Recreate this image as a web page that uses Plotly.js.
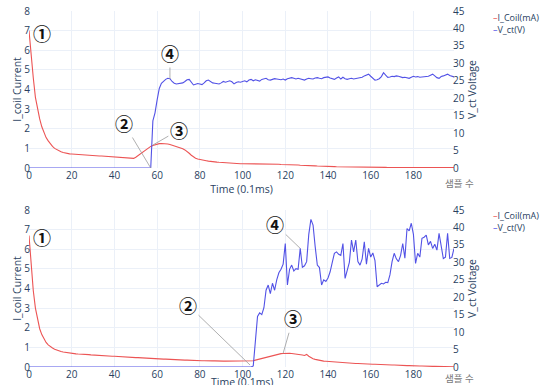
<!DOCTYPE html>
<html>
<head>
<meta charset="utf-8">
<script src="https://cdn.plot.ly/plotly-3.0.1.min.js"></script>
<style>html,body{margin:0;padding:0;background:#fff;}#chart{width:547px;height:385px;}</style>
</head>
<body>
<div id="chart"></div>
<script>
// sample index (x axis)
const samples = [
  0,1,2,3,4,5,6,7,8,9,10,11,12,13,14,15,16,17,18,19,
  20,21,22,23,24,25,26,27,28,29,30,31,32,33,34,35,36,37,38,39,
  40,41,42,43,44,45,46,47,48,49,50,51,52,53,54,55,56,57,58,59,
  60,61,62,63,64,65,66,67,68,69,70,71,72,73,74,75,76,77,78,79,
  80,81,82,83,84,85,86,87,88,89,90,91,92,93,94,95,96,97,98,99,
  100,101,102,103,104,105,106,107,108,109,110,111,112,113,114,115,116,117,118,119,
  120,121,122,123,124,125,126,127,128,129,130,131,132,133,134,135,136,137,138,139,
  140,141,142,143,144,145,146,147,148,149,150,151,152,153,154,155,156,157,158,159,
  160,161,162,163,164,165,166,167,168,169,170,171,172,173,174,175,176,177,178,179,
  180,181,182,183,184,185,186,187,188,189,190,191,192,193,194,195,196,197,198,199
];

// top chart: coil current (mA)
const coilTop = [
  7.0,5.6,4.6,3.6,3.0,2.5,2.1,1.8,1.55,1.38,
  1.22,1.1,1.0,0.93,0.87,0.83,0.79,0.76,0.74,0.72,
  0.71,0.70,0.69,0.68,0.68,0.67,0.66,0.65,0.65,0.64,
  0.63,0.63,0.62,0.61,0.61,0.60,0.59,0.58,0.57,0.56,
  0.55,0.54,0.53,0.52,0.51,0.50,0.49,0.48,0.47,0.49,
  0.55,0.63,0.72,0.81,0.90,0.98,1.05,1.10,1.15,1.19,
  1.22,1.24,1.25,1.25,1.24,1.22,1.20,1.17,1.13,1.10,
  1.06,1.02,0.98,0.92,0.85,0.75,0.65,0.57,0.50,0.46,
  0.43,0.41,0.39,0.37,0.35,0.33,0.32,0.31,0.30,0.29,
  0.28,0.27,0.26,0.25,0.24,0.24,0.23,0.23,0.23,0.22,
  0.22,0.22,0.22,0.21,0.21,0.21,0.21,0.20,0.20,0.20,
  0.20,0.20,0.20,0.19,0.19,0.19,0.19,0.19,0.18,0.18,
  0.18,0.17,0.17,0.16,0.16,0.15,0.15,0.14,0.14,0.13,
  0.13,0.12,0.12,0.11,0.11,0.10,0.10,0.09,0.09,0.08,
  0.08,0.07,0.07,0.07,0.06,0.06,0.06,0.05,0.05,0.05,
  0.05,0.04,0.04,0.04,0.04,0.04,0.04,0.03,0.03,0.03,
  0.03,0.03,0.03,0.03,0.03,0.03,0.03,0.03,0.02,0.02,
  0.02,0.02,0.02,0.02,0.02,0.02,0.02,0.02,0.02,0.02,
  0.02,0.02,0.02,0.02,0.02,0.02,0.02,0.02,0.02,0.02,
  0.02,0.02,0.02,0.02,0.02,0.02,0.02,0.02,0.02,0.02
];

// top chart: V_ct (V)
const vctTop = [
  0,0,0,0,0,0,0,0,0,0,0,0,0,0,0,0,0,0,0,0,
  0,0,0,0,0,0,0,0,0,0,0,0,0,0,0,0,0,0,0,0,
  0,0,0,0,0,0,0,0,0,0,0,0,0,0,0,0,0,0,
  13.5,15.8,
  19.5,22.8,24.3,25.0,25.4,25.7,25.6,24.8,24.3,24.1,
  24.2,24.5,24.4,24.8,25.3,25.4,24.6,23.8,24.0,24.2,
  24.1,23.9,24.4,25.0,25.2,24.8,24.4,24.3,24.2,24.1,
  24.4,24.8,24.6,24.7,25.0,24.7,24.1,24.5,24.7,24.6,
  24.8,25.0,24.7,25.2,25.4,25.0,25.3,25.2,24.9,25.4,
  25.5,25.7,25.3,25.2,25.4,25.6,25.5,25.4,25.3,25.5,
  25.2,25.6,25.8,25.9,25.7,25.5,25.7,25.5,25.3,25.2,
  25.5,25.7,25.6,25.5,25.8,25.9,25.7,25.6,25.9,26.0,
  26.1,25.8,25.6,25.4,25.8,26.1,25.5,26.0,25.6,25.4,
  25.6,25.7,25.5,25.6,25.8,25.7,26.0,26.4,26.7,26.9,
  26.3,25.8,25.2,25.3,25.6,26.2,27.3,26.6,26.0,26.1,
  26.3,26.2,26.4,26.3,26.1,25.9,26.0,25.8,25.7,26.0,
  26.3,26.1,26.2,26.0,26.1,26.2,26.1,26.3,26.6,26.9,
  26.4,25.9,25.7,26.2,26.4,26.6,26.9,26.5,26.2,26.1
];

// bottom chart: coil current (mA)
const coilBottom = [
  6.7,5.2,3.9,3.0,2.4,1.95,1.65,1.42,1.25,1.13,
  1.04,0.97,0.91,0.86,0.82,0.79,0.76,0.74,0.72,0.70,
  0.69,0.68,0.67,0.66,0.66,0.65,0.64,0.64,0.63,0.62,
  0.61,0.61,0.60,0.59,0.58,0.58,0.57,0.57,0.56,0.55,
  0.55,0.54,0.53,0.53,0.52,0.51,0.51,0.50,0.49,0.49,
  0.48,0.48,0.47,0.46,0.46,0.45,0.45,0.44,0.43,0.43,
  0.42,0.42,0.41,0.40,0.40,0.39,0.39,0.38,0.38,0.37,
  0.37,0.36,0.36,0.35,0.35,0.34,0.34,0.33,0.33,0.32,
  0.32,0.32,0.32,0.31,0.31,0.31,0.31,0.31,0.30,0.30,
  0.30,0.30,0.30,0.30,0.30,0.29,0.29,0.29,0.29,0.29,
  0.29,0.29,0.29,0.30,0.30,0.32,0.35,0.38,0.41,0.44,
  0.47,0.50,0.53,0.56,0.59,0.62,0.64,0.66,0.68,0.69,
  0.70,0.70,0.70,0.69,0.68,0.67,0.65,0.63,0.61,0.59,
  0.64,0.55,0.47,0.42,0.39,0.36,0.34,0.32,0.30,0.29,
  0.28,0.27,0.26,0.25,0.24,0.23,0.22,0.22,0.21,0.20,
  0.20,0.19,0.19,0.18,0.18,0.17,0.17,0.16,0.16,0.15,
  0.15,0.14,0.14,0.13,0.13,0.12,0.12,0.11,0.11,0.10,
  0.10,0.10,0.09,0.09,0.08,0.08,0.08,0.07,0.07,0.06,
  0.06,0.06,0.05,0.05,0.05,0.04,0.04,0.04,0.03,0.03,
  0.03,0.03,0.02,0.02,0.02,0.01,0.01,0.01,0.01,0.01
];

// bottom chart: V_ct (V)
const vctBottom = [
  0,0,0,0,0,0,0,0,0,0,0,0,0,0,0,0,0,0,0,0,
  0,0,0,0,0,0,0,0,0,0,0,0,0,0,0,0,0,0,0,0,
  0,0,0,0,0,0,0,0,0,0,0,0,0,0,0,0,0,0,0,0,
  0,0,0,0,0,0,0,0,0,0,0,0,0,0,0,0,0,0,0,0,
  0,0,0,0,0,0,0,0,0,0,0,0,0,0,0,0,0,0,0,0,
  0,0,0,0,0,
  0.3,7.0,14.5,15.5,15.0,
  17.0,22.0,23.5,21.0,24.0,22.0,25.0,27.0,28.0,29.5,
  35.4,23.5,28.0,29.2,27.5,28.2,28.0,34.0,28.6,29.0,
  30.2,38.0,42.3,40.7,34.5,29.2,28.5,23.5,25.0,24.5,
  25.5,27.3,30.0,32.6,33.0,32.3,32.0,35.4,25.4,27.8,
  30.0,36.4,33.0,36.4,30.2,29.2,31.0,35.9,29.5,34.0,
  31.5,32.7,30.5,23.0,23.5,24.0,23.8,24.3,24.2,26.4,
  30.2,32.6,31.0,30.2,32.0,35.4,31.2,39.7,39.0,41.2,
  38.0,29.7,32.6,31.5,36.9,37.2,37.8,35.0,36.0,34.0,
  35.2,33.5,38.3,34.2,31.1,31.5,38.3,31.1,31.4,34.0
];

const seriesNames = ['I_Coil(mA)', 'V_ct(V)'];
const axisTitles = {x: 'Time (0.1ms)', yLeft: 'I_coil Current', yRight: 'V_ct Voltage', sample: '샘플 수'};
const markLabels = ['①', '②', '③', '④'];

const RED = 'rgb(236,84,84)';
const BLUE = 'rgb(82,82,230)';
const TXT = '#2a3f5f';
const GRID = '#EBF0F8';
const FONT = 'Open Sans, "Noto Sans CJK KR", sans-serif';

const traces = [
  {x: samples, y: coilTop, name: seriesNames[0], type: 'scatter', mode: 'lines', line: {color: RED, width: 1.1}, xaxis: 'x', yaxis: 'y', showlegend: false},
  {x: samples, y: vctTop, name: seriesNames[1], type: 'scatter', mode: 'lines', line: {color: BLUE, width: 1.1}, xaxis: 'x', yaxis: 'y2', showlegend: false},
  {x: samples, y: coilBottom, name: seriesNames[0], type: 'scatter', mode: 'lines', line: {color: RED, width: 1.1}, xaxis: 'x2', yaxis: 'y3', showlegend: false},
  {x: samples, y: vctBottom, name: seriesNames[1], type: 'scatter', mode: 'lines', line: {color: BLUE, width: 1.1}, xaxis: 'x2', yaxis: 'y4', showlegend: false}
];

const tickFont = {family: FONT, size: 10, color: TXT};
const titleFont = {family: FONT, size: 10.5, color: TXT};

function xAx(anchor, withTitle) {
  const ax = {anchor: anchor, domain: [0, 1], range: [0, 199], dtick: 20, tick0: 0,
    showgrid: true, gridcolor: GRID, zeroline: false, showline: false, ticks: '',
    tickfont: tickFont};
  if (withTitle) ax.title = {text: axisTitles.x, font: titleFont, standoff: 1};
  return ax;
}
function yLeft(anchor, domain) {
  return {anchor: anchor, domain: domain, range: [0, 8], dtick: 1, tick0: 0,
    showgrid: true, gridcolor: GRID, zeroline: false, showline: false, ticks: '',
    ticklabelstandoff: -2,
    tickfont: tickFont, title: {text: axisTitles.yLeft, font: titleFont, standoff: 0}};
}
function yRight(anchor, over) {
  return {anchor: anchor, overlaying: over, side: 'right', range: [0, 45], dtick: 5, tick0: 0,
    showgrid: false, zeroline: false, showline: false, ticks: '',
    ticklabelstandoff: -2,
    tickfont: tickFont, title: {text: axisTitles.yRight, font: titleFont, standoff: 0}};
}

function mark(label, x, y, xref, yref, ax, ay, arrow) {
  return {text: '<b>' + label + '</b>', x: x, y: y, xref: xref, yref: yref,
    showarrow: arrow, ax: ax, ay: ay, arrowhead: 0, arrowwidth: 0.8, arrowcolor: '#9a9a9a',
    font: {family: '"Noto Sans CJK KR", sans-serif', size: 18, color: '#111'}};
}
function legendBlock(y, yref) {
  return {text: '<span style="color:' + RED + '">–</span>' + seriesNames[0] + '<br>' +
                '<span style="color:' + BLUE + '">–</span>' + seriesNames[1],
    x: 1.087, y: y, xref: 'paper', yref: yref, xanchor: 'left', yanchor: 'middle',
    align: 'left', showarrow: false,
    font: {family: FONT, size: 9, color: TXT}};
}
function sampleLabel(yref, y) {
  return {text: axisTitles.sample, x: 1.012, y: y, xref: 'paper', yref: yref,
    xanchor: 'center', yanchor: 'middle', showarrow: false,
    font: {family: FONT, size: 9.5, color: '#7a7a7a'}};
}

const layout = {
  width: 547, height: 385,
  margin: {l: 29, r: 93, t: 11, b: 18},
  paper_bgcolor: '#fff', plot_bgcolor: '#fff',
  font: {family: FONT, color: TXT},
  showlegend: false,
  xaxis: xAx('y', true),
  yaxis: yLeft('x', [0.559, 1]),
  yaxis2: yRight('x', 'y'),
  xaxis2: xAx('y3', false),
  yaxis3: yLeft('x2', [0, 0.441]),
  yaxis4: yRight('x2', 'y3'),
  annotations: [
    mark(markLabels[0], 6.1, 6.9, 'x', 'y', 0, 0, false),
    mark(markLabels[1], 57, 0, 'x', 'y', -27, -45, true),
    mark(markLabels[2], 58, 1.17, 'x', 'y', 26, -15, true),
    mark(markLabels[3], 66, 25.5, 'x', 'y2', 0, -26, true),
    mark(markLabels[0], 6.1, 6.6, 'x2', 'y3', 0, 0, false),
    mark(markLabels[1], 103.5, 0.1, 'x2', 'y3', -62, -60, true),
    mark(markLabels[2], 119, 0.7, 'x2', 'y3', 10, -35, true),
    mark(markLabels[3], 127, 34, 'x2', 'y4', -25, -24, true),
    legendBlock(0.920, 'y domain'),
    legendBlock(0.927, 'y3 domain'),
    sampleLabel('y domain', -0.096),
    sampleLabel('y3 domain', -0.075),
    {text: axisTitles.x, x: 0.5, y: -0.095, xref: 'x2 domain', yref: 'y3 domain',
     xanchor: 'center', yanchor: 'middle', showarrow: false, font: titleFont}
  ]
};

Plotly.newPlot('chart', traces, layout, {displayModeBar: false, responsive: false});
</script>
</body>
</html>
